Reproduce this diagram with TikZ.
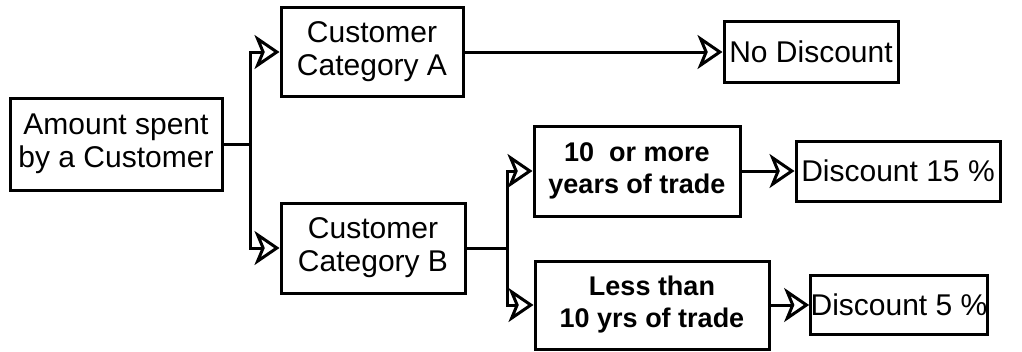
\documentclass[tikz,border=0pt]{standalone}
\usepackage{fontspec}
\setmainfont{Liberation Sans}
\usetikzlibrary{arrows.meta}
\tikzset{
  box/.style={draw, line width=3pt, inner sep=0pt, align=center,
    font=\fontsize{30}{33}\selectfont},
  boldbox/.style={box, font=\fontsize{27}{32}\selectfont\bfseries},
  link/.style={line width=3pt},
  arr/.style={link, -{Stealth[open, length=25pt, width=34pt, inset=7pt, line width=3pt]}},
}
\begin{document}
\begin{tikzpicture}[x=1pt, y=-1pt]
  \useasboundingbox (0,0) rectangle (1022,351);
  % decision boxes
  \node[box, minimum width=212pt, minimum height=92pt] (amt) at (116,144) {Amount spent\\by a Customer};
  \node[box, minimum width=182pt, minimum height=89pt] (catA) at (372,52) {Customer\\Category A};
  \node[box, minimum width=184pt, minimum height=90pt] (catB) at (373,248) {Customer\\Category B};
  \node[boldbox, minimum width=206pt, minimum height=90pt] (more) at (637,171) {10~ or more\\years of trade};
  \node[boldbox, minimum width=234pt, minimum height=88pt] (less) at (652,305) {Less than\\10 yrs of trade};
  % outcomes
  \node[box, minimum width=174pt, minimum height=61pt] (nodisc) at (811,52) {No Discount};
  \node[box, minimum width=204pt, minimum height=60pt] (d15) at (898,171) {Discount 15 \%};
  \node[box, minimum width=176pt, minimum height=59pt] (d5) at (899,305) {Discount 5 \%};
  % branch points
  \coordinate (j1) at (250,144);
  \coordinate (j2) at (507,248);
  % connectors
  \draw[link] (amt.east) -- (j1);
  \draw[arr] (j1) |- (catA.west);
  \draw[arr] (j1) |- (catB.west);
  \draw[arr] (catA.east) -- (nodisc.west);
  \draw[link] (catB.east) -- (j2);
  \draw[arr] (j2) |- (more.west);
  \draw[arr] (j2) |- (less.west);
  \draw[arr] (more.east) -- (d15.west);
  \draw[arr] (less.east) -- (d5.west);
\end{tikzpicture}
\end{document}
